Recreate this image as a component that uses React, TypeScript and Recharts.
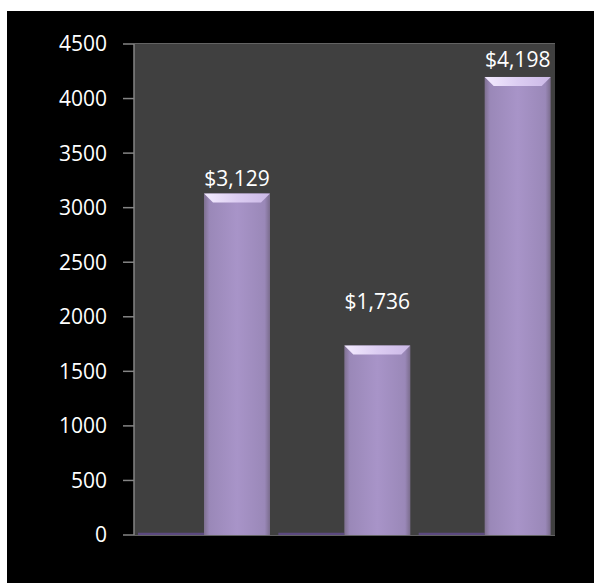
import { Bar, BarChart, CartesianGrid, LabelList, YAxis, XAxis } from "recharts"

const categories = ["A", "B", "C"]
const baseSeries = [20, 20, 20]
const totals = [3129, 1736, 4198]
const yTicks = [0, 500, 1000, 1500, 2000, 2500, 3000, 3500, 4000, 4500]

// label lift above the bar top, per bar (px)
const labelLift = [16, 45, 18]

const data = categories.map((c, i) => ({ name: c, base: baseSeries[i], total: totals[i] }))

const FONT = "'Open Sans', sans-serif"

function BevelBar(props: any) {
  const { x, y, width, height } = props
  if (!height || height <= 0) return null
  const b = Math.min(9, height / 2)
  return (
    <g>
      <rect x={x} y={y} width={width} height={height} fill="url(#barBody)" />
      <polygon
        points={`${x},${y} ${x + width},${y} ${x + width - b},${y + b} ${x + b},${y + b}`}
        fill="url(#barTop)"
      />
    </g>
  )
}

function TotalLabel(props: any) {
  const { x, y, width, value, index } = props
  const cx = x + width / 2
  return (
    <text
      x={cx}
      y={y - labelLift[index]}
      textAnchor="middle"
      dominantBaseline="central"
      fill="#ffffff"
      fontSize={21}
      fontFamily={FONT}
    >
      {"$" + Number(value).toLocaleString("en-US")}
    </text>
  )
}

export default function App() {
  return (
    <div style={{ position: "absolute", left: 0, top: 0, width: 594, height: 583, background: "#ffffff" }}>
      <div style={{ position: "absolute", left: 7, top: 11, width: 587, height: 572, background: "#000000" }}>
        <BarChart
          width={587}
          height={572}
          data={data}
          margin={{ top: 33, right: 39, bottom: 48, left: 0 }}
          barCategoryGap={4}
          barGap={0}
        >
          <defs>
            <linearGradient id="barBody" x1="0" y1="0" x2="1" y2="0">
              <stop offset="0%" stopColor="#7e7090" />
              <stop offset="8%" stopColor="#9a88b8" />
              <stop offset="50%" stopColor="#a894c8" />
              <stop offset="92%" stopColor="#9a88b8" />
              <stop offset="100%" stopColor="#7a6c8c" />
            </linearGradient>
            <linearGradient id="barTop" x1="0" y1="0" x2="1" y2="0">
              <stop offset="0%" stopColor="#f4ecff" />
              <stop offset="50%" stopColor="#dccdf2" />
              <stop offset="100%" stopColor="#cbb8e6" />
            </linearGradient>
          </defs>
          <rect x={127} y={33} width={421} height={491} fill="#404040" />
          <CartesianGrid vertical={false} stroke="#858585" strokeWidth={1.5} />
          <XAxis dataKey="name" hide />
          <YAxis
            domain={[0, 4500]}
            ticks={yTicks}
            interval={0}
            width={127}
            tickSize={11}
            tickMargin={16}
            axisLine={{ stroke: "#858585", strokeWidth: 1.5 }}
            tickLine={{ stroke: "#858585", strokeWidth: 1.5 }}
            tick={{ fill: "#ffffff", fontSize: 21, fontFamily: FONT }}
          />
          <YAxis
            yAxisId="right"
            orientation="right"
            domain={[0, 4500]}
            width={0}
            tick={false}
            tickLine={false}
            axisLine={{ stroke: "#858585", strokeWidth: 1.5 }}
          />
          <Bar dataKey="base" fill="#5c4a80" isAnimationActive={false} />
          <Bar dataKey="total" shape={<BevelBar />} isAnimationActive={false}>
            <LabelList dataKey="total" content={<TotalLabel />} />
          </Bar>
        </BarChart>
      </div>
    </div>
  )
}
